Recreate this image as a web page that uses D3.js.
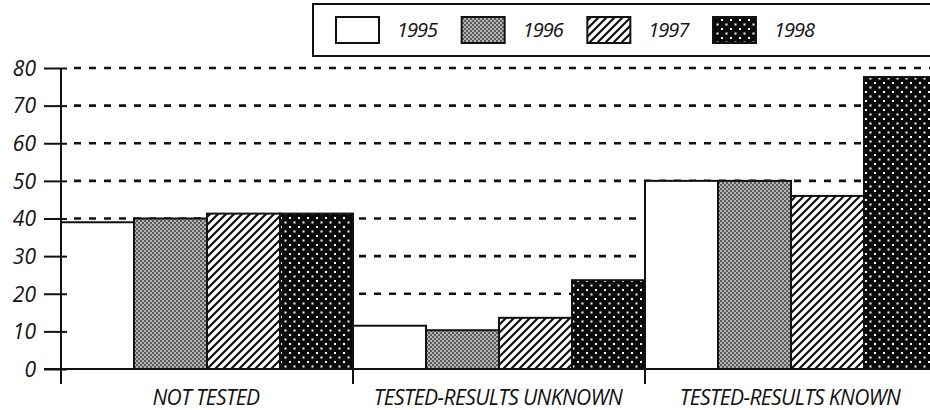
<!DOCTYPE html>
<html>
<head>
<meta charset="utf-8">
<script src="https://cdn.jsdelivr.net/npm/d3@7"></script>
<style>
  body { margin: 0; background: #fff; }
  svg { display: block; font-family: "Open Sans", "Noto Sans", sans-serif; font-style: italic; }
</style>
</head>
<body>
<div id="chart"></div>
<script>
var categories = ["NOT TESTED", "TESTED-RESULTS UNKNOWN", "TESTED-RESULTS KNOWN"];
var years = ["1995", "1996", "1997", "1998"];
var values_1995 = [39, 11.5, 50];
var values_1996 = [40, 10.3, 50];
var values_1997 = [41.3, 13.6, 46];
var values_1998 = [41.3, 23.6, 77.6];
var y_ticks = [0, 10, 20, 30, 40, 50, 60, 70, 80];

var series = [values_1995, values_1996, values_1997, values_1998];

var width = 930, height = 410;
var margins = { top: 68, right: -7, bottom: 41, left: 61 };

var data = [];
categories.forEach(function (c, i) {
  years.forEach(function (y, j) {
    data.push({ category: c, year: y, value: series[j][i] });
  });
});

var svg = d3.select("#chart").append("svg")
  .attr("width", width)
  .attr("height", height);

var defs = svg.append("defs");

// 1996: fine grey checker
var p96 = defs.append("pattern").attr("id", "p1996")
  .attr("patternUnits", "userSpaceOnUse").attr("width", 4).attr("height", 4);
p96.append("rect").attr("width", 4).attr("height", 4).attr("fill", "#b4b4b4");
p96.append("rect").attr("x", 0).attr("y", 0).attr("width", 2).attr("height", 2).attr("fill", "#5a5a5a");
p96.append("rect").attr("x", 2).attr("y", 2).attr("width", 2).attr("height", 2).attr("fill", "#5a5a5a");

// 1997: diagonal hatch
var p97 = defs.append("pattern").attr("id", "p1997")
  .attr("patternUnits", "userSpaceOnUse").attr("width", 8).attr("height", 8);
p97.append("rect").attr("width", 8).attr("height", 8).attr("fill", "#fff");
p97.append("path")
  .attr("d", "M-2,2 L2,-2 M0,8 L8,0 M6,10 L10,6")
  .attr("stroke", "#111").attr("stroke-width", 2.2);

// 1998: black with white dots
var p98 = defs.append("pattern").attr("id", "p1998")
  .attr("patternUnits", "userSpaceOnUse").attr("width", 9).attr("height", 9);
p98.append("rect").attr("width", 9).attr("height", 9).attr("fill", "#0a0a0a");
p98.append("rect").attr("x", 1).attr("y", 1).attr("width", 2).attr("height", 2).attr("fill", "#fff");
p98.append("rect").attr("x", 5.5).attr("y", 5.5).attr("width", 2).attr("height", 2).attr("fill", "#fff");

var fills = {
  "1995": "#ffffff",
  "1996": "url(#p1996)",
  "1997": "url(#p1997)",
  "1998": "url(#p1998)"
};

var x0 = d3.scaleBand()
  .domain(categories)
  .range([margins.left, width - margins.right])
  .padding(0);

var x1 = d3.scaleBand()
  .domain(years)
  .range([0, x0.bandwidth()])
  .padding(0);

var y = d3.scaleLinear()
  .domain([0, 80])
  .range([height - margins.bottom, margins.top]);

// Dashed gridlines
svg.append("g")
  .selectAll("line")
  .data(y_ticks.filter(function (d) { return d > 0; }))
  .enter()
  .append("line")
  .attr("x1", margins.left + 13)
  .attr("x2", width)
  .attr("y1", function (d) { return y(d); })
  .attr("y2", function (d) { return y(d); })
  .attr("stroke", "#111")
  .attr("stroke-width", 2.6)
  .attr("stroke-dasharray", "7,8");

// Bars
svg.append("g")
  .selectAll("rect")
  .data(data)
  .enter()
  .append("rect")
  .attr("x", function (d) { return x0(d.category) + x1(d.year); })
  .attr("y", function (d) { return y(d.value); })
  .attr("width", x1.bandwidth())
  .attr("height", function (d) { return y(0) - y(d.value); })
  .attr("fill", function (d) { return fills[d.year]; })
  .attr("stroke", "#111")
  .attr("stroke-width", 2);

// Y axis
var y_axis = svg.append("g")
  .attr("transform", "translate(" + margins.left + ",0)")
  .call(d3.axisLeft(y).tickValues(y_ticks).tickSize(17).tickPadding(8))
  .call(function (g) { g.select(".domain").remove(); });

y_axis.selectAll(".tick line")
  .attr("x2", -17).attr("x1", 6)
  .attr("stroke", "#111").attr("stroke-width", 2);

y_axis.selectAll(".tick text")
  .attr("font-size", 21)
  .attr("font-family", "'Open Sans', sans-serif")
  .attr("font-style", "italic")
  .attr("fill", "#111")
  .attr("x", -25)
  .attr("dy", "0.35em");

svg.append("line")
  .attr("x1", margins.left).attr("x2", margins.left)
  .attr("y1", y(80)).attr("y2", y(0) + 15)
  .attr("stroke", "#111").attr("stroke-width", 2);

// X axis
svg.append("line")
  .attr("x1", margins.left - 17).attr("x2", width)
  .attr("y1", y(0)).attr("y2", y(0))
  .attr("stroke", "#111").attr("stroke-width", 2);

svg.append("g")
  .selectAll("line")
  .data(categories.slice(1))
  .enter()
  .append("line")
  .attr("x1", function (d) { return x0(d); })
  .attr("x2", function (d) { return x0(d); })
  .attr("y1", y(0))
  .attr("y2", y(0) + 15)
  .attr("stroke", "#111").attr("stroke-width", 2);

svg.append("g")
  .selectAll("text")
  .data(categories)
  .enter()
  .append("text")
  .attr("x", function (d) { return x0(d) + x0.bandwidth() / 2 - 1; })
  .attr("y", 405)
  .attr("text-anchor", "middle")
  .attr("font-size", 21)
  .attr("letter-spacing", "-0.6px")
  .attr("fill", "#111")
  .text(function (d) { return d; });

// Legend
var legend = svg.append("g");

legend.append("rect")
  .attr("x", 313).attr("y", 4)
  .attr("width", 640).attr("height", 52)
  .attr("fill", "#fff")
  .attr("stroke", "#111").attr("stroke-width", 2);

var legend_x = d3.scalePoint()
  .domain(years)
  .range([336, 713]);

legend.selectAll(".swatch")
  .data(years)
  .enter()
  .append("rect")
  .attr("class", "swatch")
  .attr("x", function (d) { return legend_x(d); })
  .attr("y", 17)
  .attr("width", 43)
  .attr("height", 26)
  .attr("fill", function (d) { return fills[d]; })
  .attr("stroke", "#111").attr("stroke-width", 2);

legend.selectAll(".label")
  .data(years)
  .enter()
  .append("text")
  .attr("class", "label")
  .attr("x", function (d) { return legend_x(d) + 61; })
  .attr("y", 37)
  .attr("font-size", 20)
  .attr("letter-spacing", "-1px")
  .attr("fill", "#111")
  .text(function (d) { return d; });
</script>
</body>
</html>
